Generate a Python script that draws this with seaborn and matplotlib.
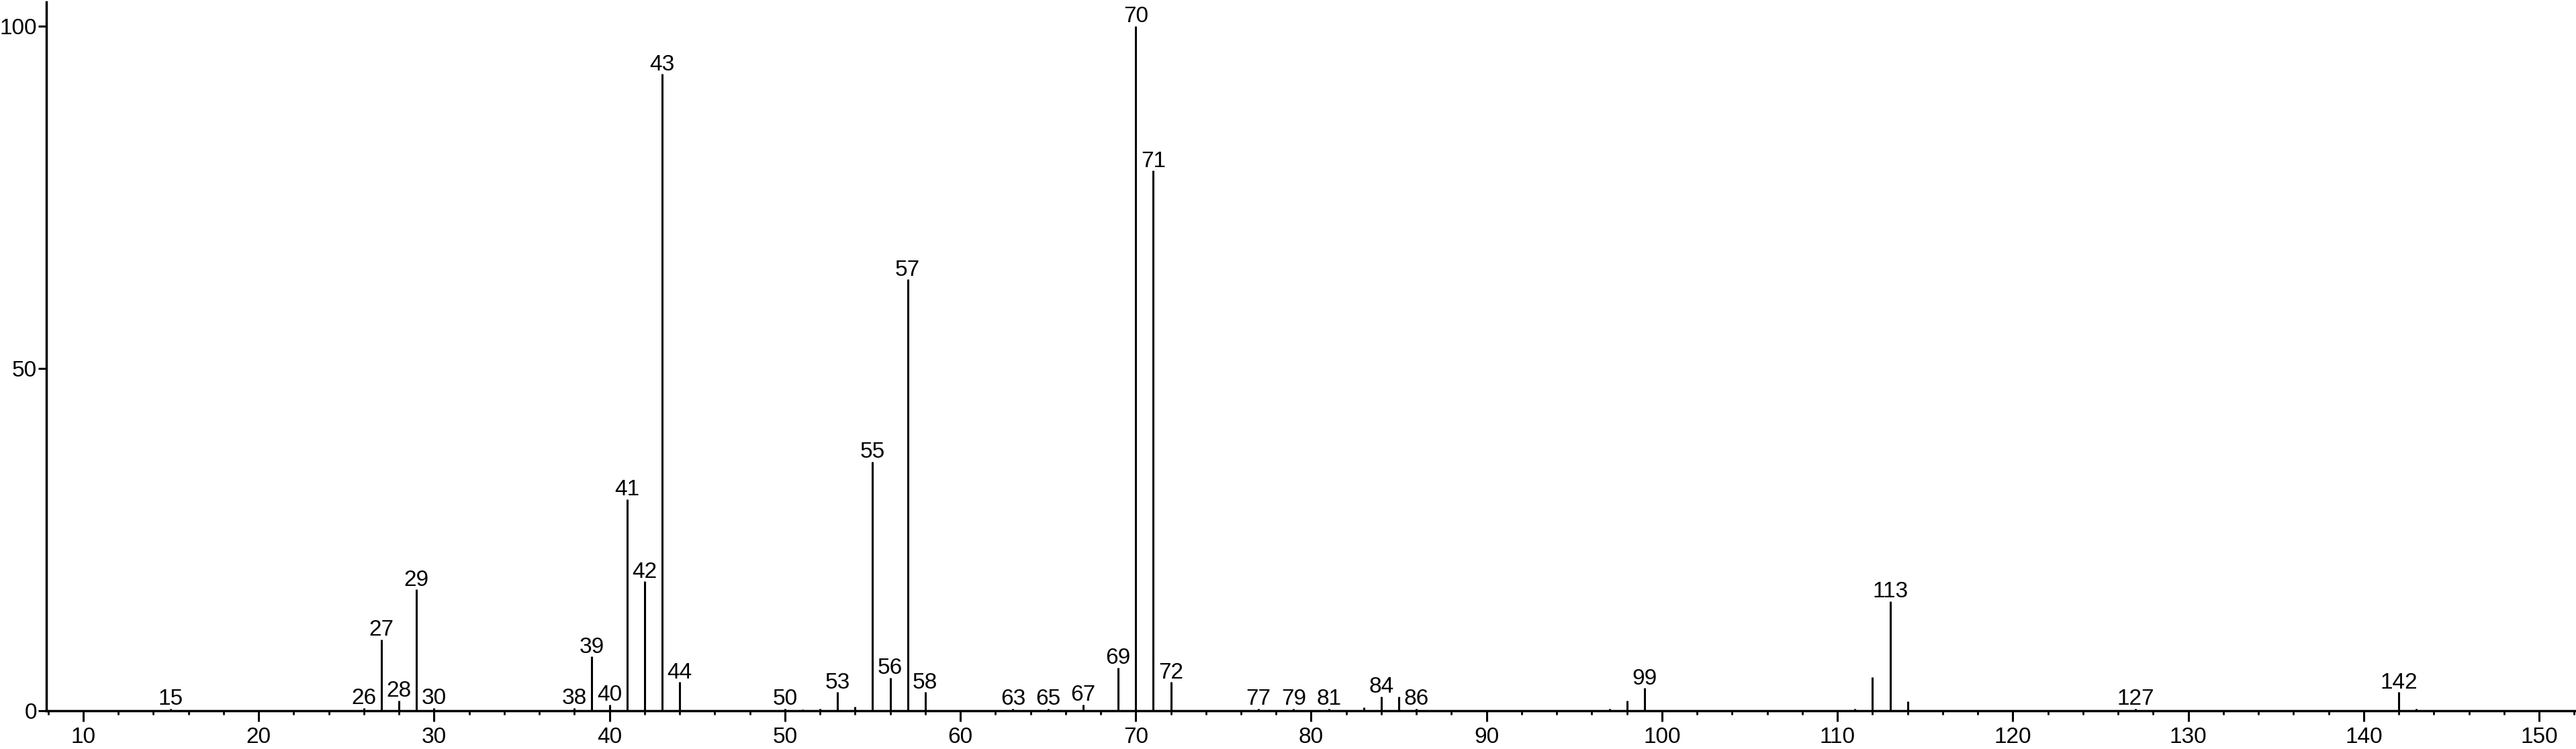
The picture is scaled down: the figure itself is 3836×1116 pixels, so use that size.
import matplotlib
matplotlib.use("Agg")
import matplotlib.pyplot as plt
from matplotlib.ticker import MultipleLocator, FixedLocator
import seaborn as sns
import pandas as pd

# ---- data ----
mz = [15, 26, 27, 28, 29, 30, 38, 39, 40, 41, 42, 43, 44, 50, 51, 52, 53, 54,
      55, 56, 57, 58, 63, 65, 67, 69, 70, 71, 72, 77, 79, 81, 83, 84, 85, 86,
      97, 98, 99, 111, 112, 113, 114, 127, 142, 143]
intensity = [0.3, 0.4, 10.4, 1.5, 17.7, 0.4, 0.4, 7.9, 0.9, 30.9, 18.9, 93.0,
             4.2, 0.3, 0.2, 0.3, 2.7, 0.6, 36.4, 4.8, 63.0, 2.7, 0.3, 0.3, 0.9,
             6.3, 100.0, 78.9, 4.2, 0.3, 0.3, 0.3, 0.5, 2.1, 2.1, 0.3, 0.3, 1.5,
             3.3, 0.3, 4.9, 16.0, 1.4, 0.3, 2.7, 0.3]
labeled = [15, 26, 27, 28, 29, 30, 38, 39, 40, 41, 42, 43, 44, 50, 53, 55, 56,
           57, 58, 63, 65, 67, 69, 70, 71, 72, 77, 79, 81, 84, 86, 99, 113, 127,
           142]
y_ticks = [0, 50, 100]

df = pd.DataFrame({"mz": mz, "intensity": intensity})

sns.set_theme(style="ticks")
plt.rcParams["font.family"] = ["Liberation Sans", "DejaVu Sans"]

fig = plt.figure(figsize=(38.36, 11.16), dpi=100)
ax = fig.add_axes([69 / 3836, 1 - 1059 / 1116, 1 - 69 / 3836, (1059 - 3.3) / 1116])

ax.vlines(df["mz"], 0, df["intensity"], color="black", linewidth=2.2)

for m, v in zip(df["mz"], df["intensity"]):
    if m in labeled:
        ax.annotate(str(m), xy=(m, v), xytext=(0, 4), textcoords="offset points",
                    ha="center", va="baseline", fontsize=24, color="black")

ax.set_xlim(7.9, 152.1)
ax.set_ylim(0, 103.5)
ax.xaxis.set_major_locator(MultipleLocator(10))
ax.xaxis.set_minor_locator(MultipleLocator(2))
ax.yaxis.set_major_locator(FixedLocator(y_ticks))
ax.yaxis.set_minor_locator(FixedLocator([]))

ax.tick_params(axis="x", which="major", length=11.5, width=2.2, pad=6,
               labelsize=24, colors="black")
ax.tick_params(axis="x", which="minor", length=4.3, width=2.0, colors="black")
ax.tick_params(axis="y", which="major", length=8.5, width=2.2, pad=1.5,
               labelsize=24, colors="black")

sns.despine(ax=ax, top=True, right=True)
for s in ("left", "bottom"):
    ax.spines[s].set_linewidth(2.5)
    ax.spines[s].set_color("black")

ax.set_xlabel("")
ax.set_ylabel("")
ax.set_facecolor("white")
fig.patch.set_facecolor("white")

fig.savefig("out.png", dpi=100, facecolor="white")
